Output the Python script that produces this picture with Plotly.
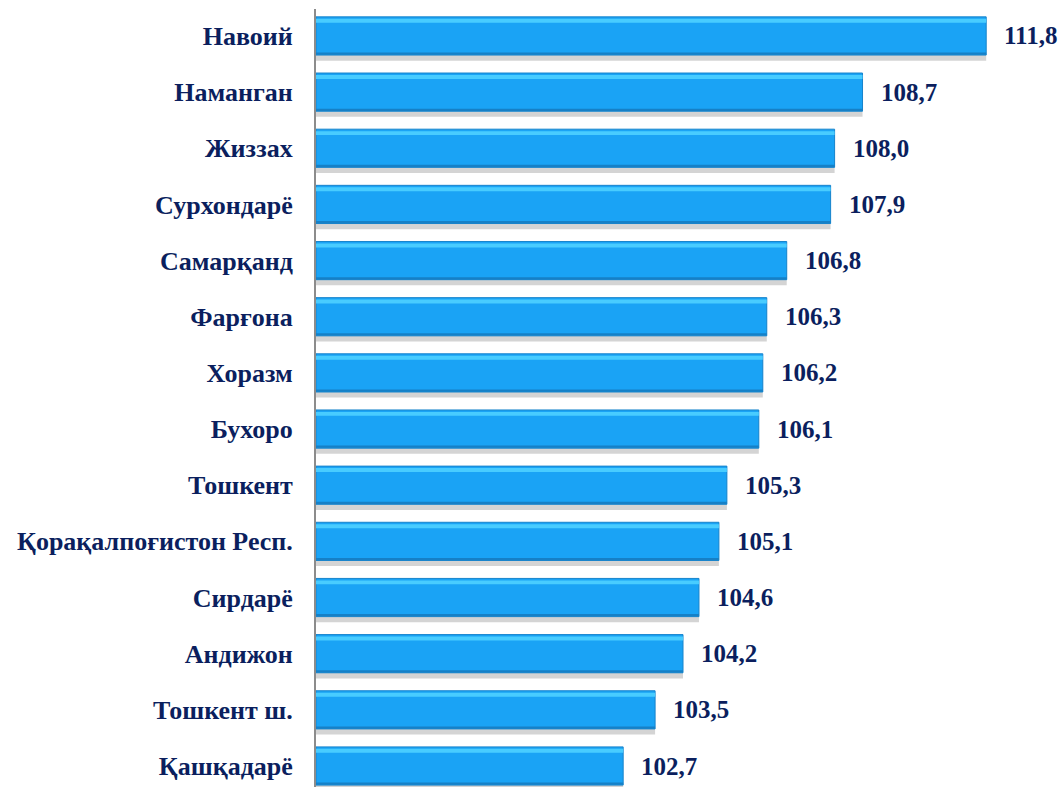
import plotly.graph_objects as go

regions = ["Навоий", "Наманган", "Жиззах", "Сурхондарё", "Самарқанд", "Фарғона",
           "Хоразм", "Бухоро", "Тошкент", "Қорақалпоғистон Респ.", "Сирдарё",
           "Андижон", "Тошкент ш.", "Қашқадарё"]
values = [111.8, 108.7, 108.0, 107.9, 106.8, 106.3, 106.2, 106.1, 105.3, 105.1,
          104.6, 104.2, 103.5, 102.7]
labels = [f"{v:.1f}".replace(".", ",") for v in values]

base = 95
navy = "#0B1F5E"
font_family = "Liberation Serif, Times New Roman, serif"
lengths = [v - base for v in values]

fig = go.Figure()
# soft shadow under each bar
fig.add_trace(go.Bar(y=regions, x=lengths, base=base, orientation="h",
                     width=0.70, offset=-0.44,
                     marker=dict(color="#D4D4D4", line=dict(width=0)),
                     hoverinfo="skip"))
# main bar
fig.add_trace(go.Bar(y=regions, x=lengths, base=base, orientation="h",
                     width=0.68, offset=-0.34,
                     marker=dict(color="#1AA3F5", line=dict(color="#1784CC", width=1)),
                     hoverinfo="skip"))
# top highlight band
fig.add_trace(go.Bar(y=regions, x=lengths, base=base, orientation="h",
                     width=0.07, offset=0.235,
                     marker=dict(color="#48CCFF", line=dict(width=0)),
                     hoverinfo="skip"))
# bottom darker band
fig.add_trace(go.Bar(y=regions, x=lengths, base=base, orientation="h",
                     width=0.04, offset=-0.335,
                     marker=dict(color="#1680C6", line=dict(width=0)),
                     hoverinfo="skip"))

for r, v, t in zip(regions, values, labels):
    fig.add_annotation(x=v, y=r, text=f"<b>{t}</b>", showarrow=False,
                       xanchor="left", xshift=16,
                       font=dict(family=font_family, size=25, color=navy))

fig.update_layout(
    width=1061, height=787,
    margin=dict(l=316, r=3, t=9, b=0),
    paper_bgcolor="white", plot_bgcolor="white",
    showlegend=False, barmode="overlay",
)
fig.update_xaxes(range=[base, 113.6], visible=False, showgrid=False, zeroline=False)
fig.update_yaxes(
    categoryorder="array", categoryarray=regions[::-1],
    range=[-0.374, 13.48],
    showline=True, linecolor="#8C8C8C", linewidth=2,
    showgrid=False, zeroline=False,
    ticks="", ticklabelstandoff=16,
    tickfont=dict(family=font_family, size=26, color=navy),
    tickprefix="<b>", ticksuffix="</b>",
)

fig.write_html("out.html", config={"displayModeBar": False},
               post_script="document.body.style.margin='0';document.body.style.overflow='hidden';")
